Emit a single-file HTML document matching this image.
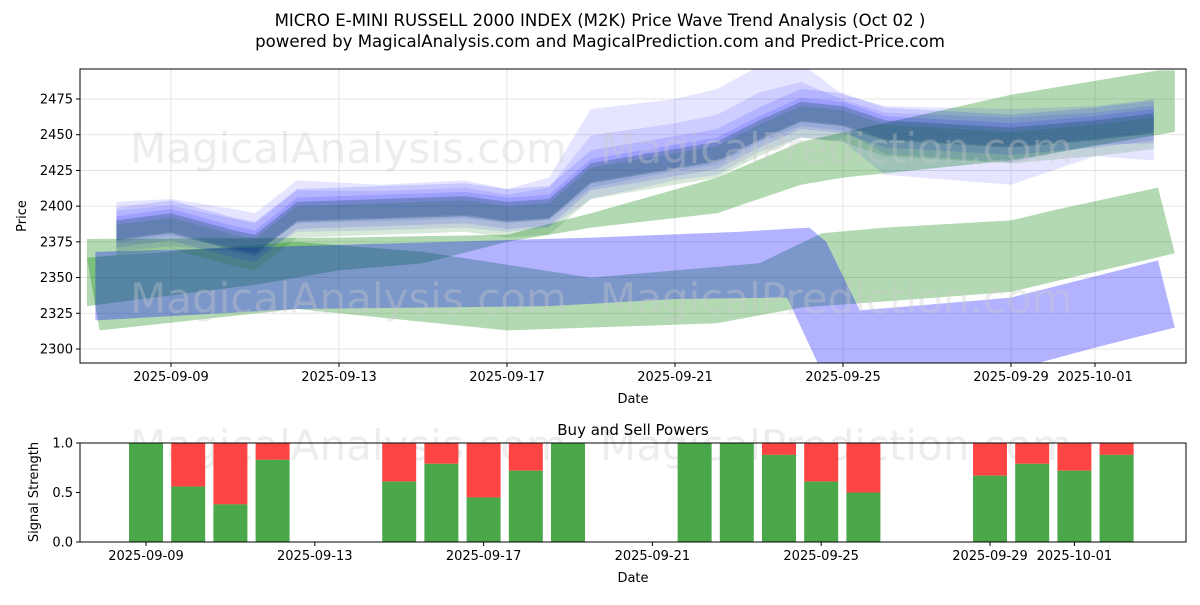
<!DOCTYPE html>
<html><head><meta charset="utf-8"><style>
body{margin:0;background:#fff;font-family:"Liberation Sans","DejaVu Sans",sans-serif}
svg text{font-family:"DejaVu Sans","Liberation Sans",sans-serif}
</style></head><body>
<svg id="c" width="1200" height="600" xmlns="http://www.w3.org/2000/svg">
<defs>
<clipPath id="top"><rect x="80" y="69" width="1106" height="294"/></clipPath>
</defs>
<rect width="1200" height="600" fill="#fff"/>
<text x="600" y="26" text-anchor="middle" font-size="16.6">MICRO E-MINI RUSSELL 2000 INDEX (M2K) Price Wave Trend Analysis (Oct 02 )</text>
<text x="600" y="47" text-anchor="middle" font-size="16.6">powered by MagicalAnalysis.com and MagicalPrediction.com and Predict-Price.com</text>
<g id="topGrid"></g>
<g id="bands" clip-path="url(#top)"></g>
<g id="wm" fill="#ccc" opacity="0.35" font-size="42">
<text x="130" y="163">MagicalAnalysis.com</text>
<text x="600" y="163">MagicalPrediction.com</text>
<text x="130" y="313">MagicalAnalysis.com</text>
<text x="600" y="313">MagicalPrediction.com</text>
<text x="130" y="460">MagicalAnalysis.com</text>
<text x="600" y="460">MagicalPrediction.com</text>
</g>
<rect x="80" y="69" width="1106" height="294" fill="none" stroke="#000"/>
<g id="topAxis"></g>
<text x="633" y="403" text-anchor="middle" font-size="13">Date</text>
<text transform="translate(26,216) rotate(-90)" text-anchor="middle" font-size="13">Price</text>
<text x="633" y="435" text-anchor="middle" font-size="15">Buy and Sell Powers</text>
<g id="bars"></g>
<rect x="80" y="443" width="1106" height="99" fill="none" stroke="#000"/>
<g id="botAxis"></g>
<text x="633" y="582" text-anchor="middle" font-size="13">Date</text>
<text transform="translate(38,492) rotate(-90)" text-anchor="middle" font-size="13">Signal Strength</text>
</svg>
<script>
const dateLabels=["2025-09-09","2025-09-13","2025-09-17","2025-09-21","2025-09-25","2025-09-29","2025-10-01"];
const dateTicks=[0,4,8,12,16,20,22];
const priceTicks=[2300,2325,2350,2375,2400,2425,2450,2475];
const sigTicks=[0,0.5,1];
// blue cluster
const clDays=[-1.3,0,1.5,2,3,5,7,8,9,10,12,13,14,15,16,17,20,22,23.4];
const clVals=[2385,2390,2378,2375,2398,2400,2402,2398,2400,2425,2435,2440,2455,2468,2465,2455,2450,2455,2460];
const envUp=[2403,2405,2398,2395,2418,2415,2418,2412,2420,2468,2475,2482,2498,2500,2478,2470,2468,2470,2475];
const envLow=[2368,2372,2368,2365,2382,2383,2385,2382,2385,2405,2418,2422,2438,2448,2445,2422,2415,2435,2432];
const gaDays=[-2,4,8,10,13,15,20,23.5,23.9];
const gaUp=[2377,2378,2380,2395,2420,2445,2478,2495,2495];
const gaLowDays=[-2,2,4,6,8,10,13,15,16,20,23.9];
const gaLow=[2330,2345,2355,2360,2375,2385,2395,2415,2420,2432,2452];
const gbUpDays=[-2,3,6,10,14,15.5,17,20,21,23.5];
const gbUp=[2364,2375,2368,2350,2360,2381,2385,2390,2397,2413];
const gbLowDays=[-1.7,3,8,13,15,16.4,20,23.9];
const gbLow=[2313,2328,2313,2318,2329,2332,2340,2367];
const blUpDays=[-1.8,3,10,13.5,15.2,15.6,16.4,20,23.5];
const blUp=[2368,2372,2378,2382,2385,2375,2327,2336,2362];
const blLowDays=[-1.8,3,9,12,14.67,15.4,16,20,22,23.9];
const blLow=[2320,2328,2330,2335,2336,2290,2270,2285,2301,2315];
const barDays=[0,1,2,3,6,7,8,9,10,13,14,15,16,17,20,21,22,23];
const buyVals=[1.0,0.56,0.38,0.83,0.61,0.79,0.45,0.72,1.0,1.0,1.0,0.88,0.61,0.5,0.67,0.79,0.72,0.88];

const NS="http://www.w3.org/2000/svg";
const X=d=>171+42*d;
const XB=d=>146+42.2*d;
const Y=p=>99+(2475-p)*250/175;
const YS=v=>542-99*v;
function mk(tag,attrs,parent){const e=document.createElementNS(NS,tag);for(const k in attrs)e.setAttribute(k,attrs[k]);document.getElementById(parent).appendChild(e);return e;}
function poly(ud,u,ld,l,fill,name){
  let pts=ud.map((d,i)=>X(d)+","+Y(u[i]));
  for(let i=ld.length-1;i>=0;i--)pts.push(X(ld[i])+","+Y(l[i]));
  const p=mk("polygon",{points:pts.join(" "),fill:fill},"bands");
  
  
}
dateTicks.forEach(d=>{
  const g=mk("line",{x1:X(d),x2:X(d),y1:69,y2:363,stroke:"#ddd","stroke-width":0.8},"topGrid");
  
  
});
priceTicks.forEach(p=>{
  const g=mk("line",{x1:80,x2:1186,y1:Y(p),y2:Y(p),stroke:"#ddd","stroke-width":0.8},"topGrid");
  
  
});
poly(gaDays,gaUp,gaLowDays,gaLow,"rgba(0,128,0,0.3)","green-band-upper");
poly(gbUpDays,gbUp,gbLowDays,gbLow,"rgba(0,128,0,0.3)","green-band-lower");
poly(blUpDays,blUp,blLowDays,blLow,"rgba(0,0,255,0.3)","blue-band-lower");
// cluster layers
poly(clDays,envUp,clDays,envLow,"rgba(0,0,255,0.1)","blue-cluster-envelope");
poly(clDays,envUp.map((v,i)=>(v+clVals[i])/2+3),clDays,envLow.map((v,i)=>(v+clVals[i])/2-2),"rgba(0,0,255,0.1)","blue-cluster-band");
poly(clDays,clVals.map(v=>v+14),clDays,clVals.map(v=>v-8),"rgba(0,0,255,0.12)","blue-cluster-band");
poly(clDays,clVals.map(v=>v+8),clDays,clVals.map(v=>v-14),"rgba(0,0,255,0.12)","blue-cluster-band");
poly(clDays,clVals.map(v=>v+2),clDays,clVals.map(v=>v-20),"rgba(0,110,0,0.15)","green-cluster-band");
poly(clDays,clVals.map(v=>v+5),clDays,clVals.map(v=>v-9),"rgba(20,80,90,0.3)","cluster-core");
function ticks(parent,yb,xf){
  dateTicks.forEach((d,i)=>{
    const t=mk("line",{x1:xf(d),x2:xf(d),y1:yb,y2:yb+4,stroke:"#000"},parent);
    
    
    const s=mk("text",{x:xf(d),y:yb+18,"text-anchor":"middle","font-size":13},parent);
    s.textContent=dateLabels[i];
    
    
  });
}
ticks("topAxis",363,X);ticks("botAxis",542,XB);
priceTicks.forEach(p=>{
  const t=mk("line",{x1:76,x2:80,y1:Y(p),y2:Y(p),stroke:"#000"},"topAxis");
  
  
  const s=mk("text",{x:73,y:Y(p)+4.5,"text-anchor":"end","font-size":13},"topAxis");
  s.textContent=p;
  
  
});
sigTicks.forEach(v=>{
  const t=mk("line",{x1:76,x2:80,y1:YS(v),y2:YS(v),stroke:"#000"},"botAxis");
  
  
  const s=mk("text",{x:73,y:YS(v)+4.5,"text-anchor":"end","font-size":13},"botAxis");
  s.textContent=v.toFixed(1);
  
  
});
barDays.forEach((d,i)=>{
  const b=buyVals[i],w=34,x=XB(d)-w/2;
  const r=mk("rect",{x:x,y:YS(1),width:w,height:YS(b)-YS(1),fill:"#ff4444"},"bars");
  
  
  const g=mk("rect",{x:x,y:YS(b),width:w,height:YS(0)-YS(b),fill:"#4aa84a"},"bars");
  
  
});
</script>
</body></html>
